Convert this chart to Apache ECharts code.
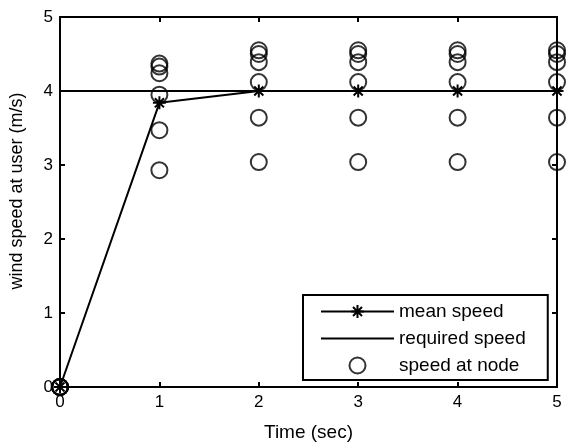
<!DOCTYPE html>
<html>
<head>
<meta charset="utf-8">
<script src="https://cdn.jsdelivr.net/npm/echarts@6/dist/echarts.min.js"></script>
<style>
  html, body { margin: 0; padding: 0; background: #fff; }
  #chart { width: 567px; height: 442px; }
</style>
</head>
<body>
<div id="chart"></div>
<script>
// time axis (sec)
const times = [0, 1, 2, 3, 4, 5]

// mean / required wind speed at user (m/s)
const meanSpeed = [0, 3.84, 4.0, 4.0, 4.0, 4.0]
const requiredSpeed = [4, 4, 4, 4, 4, 4]

// speed at each node (m/s)
const node1 = [0, 4.37, 4.55, 4.55, 4.55, 4.55]
const node2 = [0, 4.33, 4.50, 4.50, 4.50, 4.50]
const node3 = [0, 4.24, 4.39, 4.39, 4.39, 4.39]
const node4 = [0, 3.95, 4.12, 4.12, 4.12, 4.12]
const node5 = [0, 3.47, 3.64, 3.64, 3.64, 3.64]
const node6 = [0, 2.93, 3.04, 3.04, 3.04, 3.04]
const nodes = [node1, node2, node3, node4, node5, node6]

const FONT = 'Liberation Sans, Arial, sans-serif'
const starPath = 'path://M0,-10L0,10M-10,0L10,0M-7,-7L7,7M-7,7L7,-7'

const pair = (arr) => times.map((t, i) => [t, arr[i]])

// 所有节点的散点
const nodePoints = []
nodes.forEach((n) => n.forEach((v, i) => nodePoints.push([times[i], v])))

const chart = echarts.init(document.getElementById('chart'))

const axisCommon = {
  type: 'value',
  min: 0,
  max: 5,
  interval: 1,
  axisLine: { show: true, onZero: false, lineStyle: { color: '#000', width: 2 } },
  axisTick: { show: true, inside: true, length: 5, lineStyle: { color: '#000', width: 2 } },
  splitLine: { show: false },
}

const option = {
  animation: false,
  backgroundColor: '#fff',
  grid: { left: 60, top: 17, right: 10, bottom: 55, containLabel: false, outerBoundsMode: 'none' },
  xAxis: [
    {
      ...axisCommon,
      position: 'bottom',
      name: 'Time (sec)',
      nameLocation: 'middle',
      nameGap: 36,
      nameTextStyle: { color: '#000', fontSize: 19, fontFamily: FONT },
      axisLabel: { color: '#000', fontSize: 17, fontFamily: FONT, margin: 7 },
    },
    {
      ...axisCommon,
      position: 'top',
      axisLabel: { show: false },
    },
  ],
  yAxis: [
    {
      ...axisCommon,
      position: 'left',
      name: 'wind speed at user (m/s)',
      nameLocation: 'middle',
      nameGap: 34,
      nameTextStyle: { color: '#000', fontSize: 18, fontFamily: FONT, padding: [0, 0, 0, 22] },
      axisLabel: { color: '#000', fontSize: 17, fontFamily: FONT, margin: 7 },
    },
    {
      ...axisCommon,
      position: 'right',
      axisLabel: { show: false },
    },
  ],
  legend: {
    orient: 'vertical',
    left: 303,
    top: 295,
    itemWidth: 73,
    itemHeight: 16,
    itemGap: 8,
    padding: [7, 22, 5, 17],
    borderColor: '#000',
    borderWidth: 2,
    backgroundColor: '#fff',
    textStyle: { color: '#000', fontSize: 19, fontFamily: FONT },
    data: [
      'mean speed',
      { name: 'required speed', icon: 'path://M0,0L73,0L73,2L0,2Z' },
      'speed at node',
    ],
  },
  series: [
    {
      name: 'required speed',
      type: 'line',
      data: pair(requiredSpeed),
      symbol: 'none',
      lineStyle: { color: '#000', width: 2 },
      itemStyle: { color: '#000' },
      z: 2,
    },
    {
      name: 'speed at node',
      type: 'scatter',
      data: nodePoints,
      symbol: 'circle',
      symbolSize: 16,
      itemStyle: { color: 'rgba(0,0,0,0)', borderColor: '#000', borderWidth: 2 },
      clip: false,
      z: 3,
    },
    {
      name: 'mean speed',
      type: 'line',
      data: pair(meanSpeed),
      symbol: starPath,
      symbolSize: 13,
      showAllSymbol: true,
      lineStyle: { color: '#000', width: 2 },
      itemStyle: { color: '#000', borderColor: '#000', borderWidth: 2 },
      clip: false,
      z: 4,
    },
  ],
}

chart.setOption(option)
</script>
</body>
</html>
